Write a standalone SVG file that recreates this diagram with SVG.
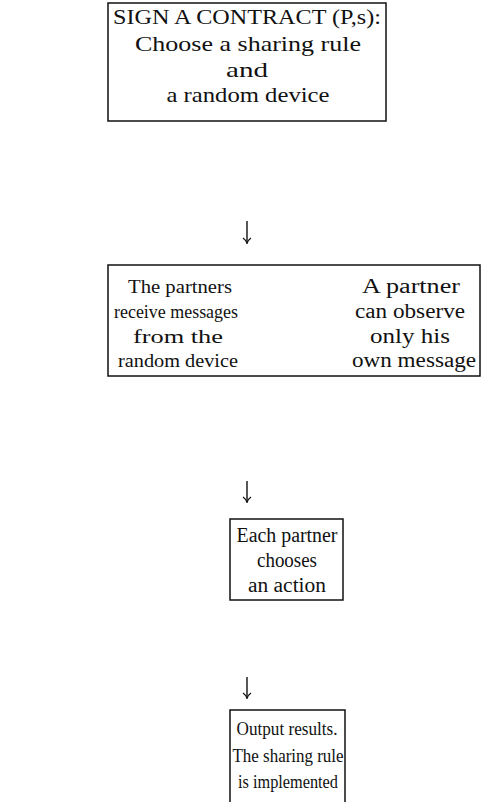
<svg xmlns="http://www.w3.org/2000/svg" width="481" height="802" viewBox="0 0 481 802">
<defs>
<style>
.box{fill:none;stroke:#111;stroke-width:1.5}
.t{font-family:"Liberation Serif","DejaVu Serif",serif;font-size:21px;fill:#111;text-anchor:middle}
.s{font-size:19px}
.m{font-size:20px}
.arr{stroke:#111;stroke-width:1.4;fill:none}
</style>
<marker id="ah" markerWidth="10" markerHeight="10" refX="9" refY="5" orient="auto" markerUnits="userSpaceOnUse" viewBox="0 0 10 10">
<path d="M4,1 Q6,4 9.5,5 Q6,6 4,9" fill="none" stroke="#111" stroke-width="1.3"/>
</marker>
</defs>
<rect width="481" height="802" fill="#fff"/>
<g id="contract">
<rect class="box" x="108" y="3" width="278" height="118"/>
<text class="t" x="247" y="24" textLength="268" lengthAdjust="spacingAndGlyphs">SIGN A CONTRACT (P,s):</text>
<text class="t" x="248" y="51" textLength="226" lengthAdjust="spacingAndGlyphs">Choose a sharing rule</text>
<text class="t" x="247" y="77" textLength="42" lengthAdjust="spacingAndGlyphs">and</text>
<text class="t" x="248" y="102" textLength="163" lengthAdjust="spacingAndGlyphs">a random device</text>
</g>
<g id="messages">
<rect class="box" x="108" y="265" width="372" height="111"/>
<text class="t s" x="180" y="293" textLength="104" lengthAdjust="spacingAndGlyphs">The partners</text>
<text class="t s" x="176" y="318" textLength="124" lengthAdjust="spacingAndGlyphs">receive messages</text>
<text class="t s" x="178" y="343" textLength="90" lengthAdjust="spacingAndGlyphs">from the</text>
<text class="t s" x="178" y="367" textLength="120" lengthAdjust="spacingAndGlyphs">random device</text>
<text class="t m" x="411" y="293" textLength="98" lengthAdjust="spacingAndGlyphs">A partner</text>
<text class="t m" x="410" y="318" textLength="110" lengthAdjust="spacingAndGlyphs">can observe</text>
<text class="t m" x="410" y="343" textLength="80" lengthAdjust="spacingAndGlyphs">only his</text>
<text class="t m" x="414" y="367" textLength="124" lengthAdjust="spacingAndGlyphs">own message</text>
</g>
<g id="action">
<rect class="box" x="230" y="519" width="113" height="81"/>
<text class="t m" x="287" y="542" textLength="101" lengthAdjust="spacingAndGlyphs">Each partner</text>
<text class="t m" x="287" y="567" textLength="60" lengthAdjust="spacingAndGlyphs">chooses</text>
<text class="t m" x="287" y="592" textLength="78" lengthAdjust="spacingAndGlyphs">an action</text>
</g>
<g id="output">
<rect class="box" x="230" y="710" width="115" height="100"/>
<text class="t s" x="287" y="735" textLength="101" lengthAdjust="spacingAndGlyphs">Output results.</text>
<text class="t s" x="288" y="762" textLength="111" lengthAdjust="spacingAndGlyphs">The sharing rule</text>
<text class="t s" x="288" y="788" textLength="100" lengthAdjust="spacingAndGlyphs">is implemented</text>
</g>
<g id="connectors">
<line class="arr" x1="247" y1="221" x2="247" y2="243" marker-end="url(#ah)"/>
<line class="arr" x1="247" y1="481" x2="247" y2="502" marker-end="url(#ah)"/>
<line class="arr" x1="247" y1="677" x2="247" y2="698" marker-end="url(#ah)"/>
</g>
</svg>
